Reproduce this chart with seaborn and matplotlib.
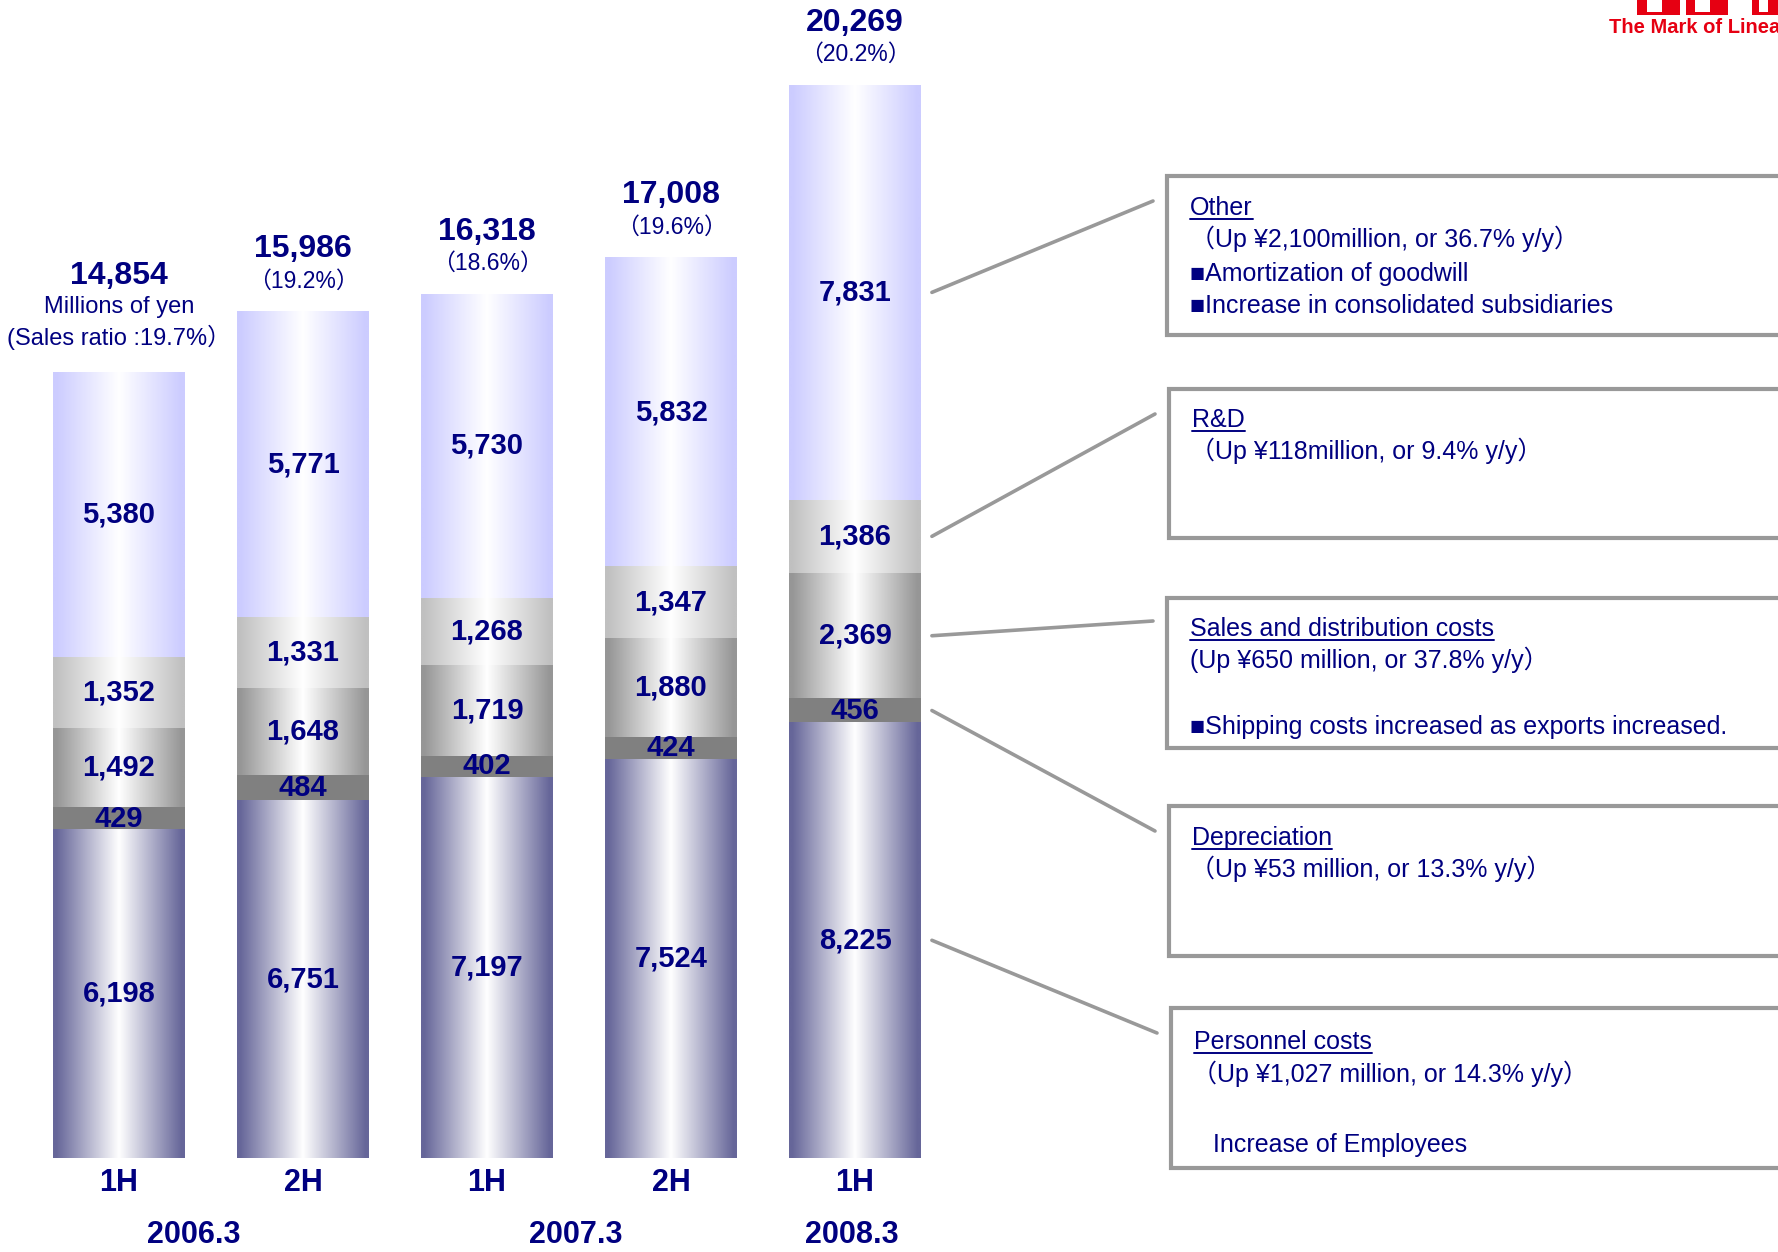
import numpy as np
import matplotlib
matplotlib.use("Agg")
import matplotlib.pyplot as plt
import seaborn as sns
from matplotlib.patches import Rectangle, ConnectionPatch
from matplotlib.lines import Line2D

# ---------------- data ----------------
periods = ["2006.3 1H", "2006.3 2H", "2007.3 1H", "2007.3 2H", "2008.3 1H"]
tick_labels = ["1H", "2H", "1H", "2H", "1H"]
years = ["2006.3", "2007.3", "2008.3"]

personnel = [6198, 6751, 7197, 7524, 8225]
depreciation = [429, 484, 402, 424, 456]
sales_dist = [1492, 1648, 1719, 1880, 2369]
rnd = [1352, 1331, 1268, 1347, 1386]
other = [5380, 5771, 5730, 5832, 7831]
totals = [14854, 15986, 16318, 17008, 20269]
sales_ratio = ["19.7", "19.2", "18.6", "19.6", "20.2"]

seg_names = ["Personnel costs", "Depreciation", "Sales and distribution costs", "R&D", "Other"]
box_lines = {
    "Other": ["\uff08Up \u00a52,100million, or 36.7% y/y\uff09", "\u25a0Amortization of goodwill",
              "\u25a0Increase in consolidated subsidiaries"],
    "R&D": ["\uff08Up \u00a5118million, or 9.4% y/y\uff09"],
    "Sales and distribution costs": ["(Up \u00a5650 million, or 37.8% y/y\uff09", "",
                                     "\u25a0Shipping costs increased as exports increased."],
    "Depreciation": ["\uff08Up \u00a553 million, or 13.3% y/y\uff09"],
    "Personnel costs": ["\uff08Up \u00a51,027 million, or 14.3% y/y\uff09", "", "   Increase of Employees"],
}

# ---------------- style ----------------
sns.set_style("white")
plt.rcParams["font.family"] = ["Liberation Sans", "Noto Sans CJK JP", "DejaVu Sans"]
NAVY = "#000080"
GRAYLINE = "#999999"

edge_cols = ["#666699", "#808080", "#969696", "#c0c0c0", "#ccccff"]
gradient = [True, False, True, True, True]

W, H = 1778, 1252
fig = plt.figure(figsize=(W / 100, H / 100), dpi=100)
fig.patch.set_facecolor("white")

ax_left, ax_right = 27, 947
ax_bottom_px, ax_top_px = 1158, 85
ax = fig.add_axes([ax_left / W, (H - ax_bottom_px) / H, (ax_right - ax_left) / W,
                   (ax_bottom_px - ax_top_px) / H])

segs = [personnel, depreciation, sales_dist, rnd, other]
cum = np.cumsum(np.array(segs, dtype=float), axis=0)

layer_patches = {}
for k in reversed(range(len(segs))):
    n0 = len(ax.patches)
    sns.barplot(x=periods, y=cum[k], order=periods, color=edge_cols[k], saturation=1,
                width=0.717, errorbar=None, ax=ax, linewidth=0)
    layer_patches[k] = ax.patches[n0:]


def grad_img(edge_hex):
    edge = np.array(matplotlib.colors.to_rgb(edge_hex))
    white = np.ones(3)
    n = 256
    t = np.abs(np.linspace(0, 1, n) - 0.5) * 2
    t = np.clip(t * 1.05, 0, 1)
    row = white[None, :] * (1 - t[:, None]) + edge[None, :] * t[:, None]
    return row[None, :, :]


mids = {}
for k in range(len(segs)):
    img = grad_img(edge_cols[k])
    for i, p in enumerate(layer_patches[k]):
        x0, w = p.get_x(), p.get_width()
        top = p.get_height()
        bottom = layer_patches[k - 1][i].get_height() if k > 0 else 0.0
        if gradient[k]:
            ax.imshow(img, extent=[x0, x0 + w, bottom, top], aspect="auto",
                      interpolation="bilinear", zorder=2)
        mid = (bottom + top) / 2
        mids[(k, i)] = mid
        ax.text(x0 + w / 2, mid, f"{segs[k][i]:,}", ha="center", va="center",
                fontsize=21, fontweight="bold", color=NAVY, zorder=4)

# totals and ratios
for i, p in enumerate(layer_patches[len(segs) - 1]):
    xc = p.get_x() + p.get_width() / 2
    top = p.get_height()
    if i == 0:
        ax.annotate(f"{totals[i]:,}", xy=(xc, top), xytext=(0, 69), textcoords="offset points",
                    ha="center", va="center", fontsize=23, fontweight="bold", color=NAVY,
                    annotation_clip=False)
        ax.annotate("Millions of yen", xy=(xc, top), xytext=(0, 47), textcoords="offset points",
                    ha="center", va="center", fontsize=17, color=NAVY, annotation_clip=False)
        ax.annotate(f"(Sales ratio :{sales_ratio[i]}%\uff09", xy=(xc, top), xytext=(0, 25),
                    textcoords="offset points", ha="center", va="center", fontsize=17,
                    color=NAVY, annotation_clip=False)
    else:
        ax.annotate(f"{totals[i]:,}", xy=(xc, top), xytext=(0, 45), textcoords="offset points",
                    ha="center", va="center", fontsize=23, fontweight="bold", color=NAVY,
                    annotation_clip=False)
        ax.annotate(f"\uff08{sales_ratio[i]}%\uff09", xy=(xc, top), xytext=(0, 22),
                    textcoords="offset points", ha="center", va="center", fontsize=16.5,
                    color=NAVY, annotation_clip=False)

ax.set_xlim(-0.5, len(periods) - 0.5)
ax.set_ylim(0, totals[-1])
ax.set_xticks(range(len(periods)))
ax.set_xticklabels(tick_labels, fontsize=22, fontweight="bold", color=NAVY)
ax.tick_params(axis="x", length=0, pad=7)
ax.set_yticks([])
ax.set_xlabel("")
ax.set_ylabel("")
for s in ax.spines.values():
    s.set_visible(False)

# ---------------- overlay (pixel coords) ----------------
ov = fig.add_axes([0, 0, 1, 1])
ov.set_xlim(0, W)
ov.set_ylim(H, 0)
ov.axis("off")
ov.patch.set_visible(False)

# year labels
for label, xp in zip(years, [194, 576, 852]):
    ov.text(xp, 1243, label, ha="center", va="baseline", fontsize=22, fontweight="bold",
            color=NAVY)

# logo fragment
RED = "#e60012"
for (x0, x1, i0, i1) in [(1637, 1680, 1647, 1662), (1686, 1728, 1695, 1710), (1752, 1790, 1759, 1768)]:
    ov.add_patch(Rectangle((x0, 0), x1 - x0, 15, facecolor=RED, edgecolor="none"))
    ov.add_patch(Rectangle((i0, 0), i1 - i0, 12, facecolor="white", edgecolor="none"))
ov.text(1609, 33, "The Mark of Linear Motion", ha="left", va="baseline", fontsize=14.5,
        fontweight="bold", color=RED, clip_on=True)

# boxes: (segment index, x, y_top, y_bottom, title x, title baseline, line baselines, line x, line-end y)
boxes = [
    (4, 1167, 176, 335, 1190, 215, [247, 281, 313], 1190, 201),
    (3, 1169, 389, 538, 1192, 427, [459], 1190, 414),
    (2, 1167, 598, 748, 1190, 636, [668, 701, 734], 1190, 621),
    (1, 1169, 806, 956, 1192, 845, [877], 1190, 831),
    (0, 1171, 1008, 1168, 1194, 1049, [1082, 1117, 1152], 1192, 1033),
]

titles = []
for (k, bx, by0, by1, tx, tyb, lys, lx, ly_end) in boxes:
    ov.add_patch(Rectangle((bx, by0), 700, by1 - by0, facecolor="white", edgecolor=GRAYLINE,
                           linewidth=3.0))
    name = seg_names[k]
    t = ov.text(tx, tyb, name, ha="left", va="baseline", fontsize=18, color=NAVY)
    titles.append((t, tyb))
    for line, yb in zip(box_lines[name], lys):
        if line:
            ov.text(lx, yb, line, ha="left", va="baseline", fontsize=18, color=NAVY)
    con = ConnectionPatch(xyA=(4.418, mids[(k, 4)]), coordsA=ax.transData,
                          xyB=(bx - 14, ly_end), coordsB=ov.transData,
                          color=GRAYLINE, linewidth=2.6)
    fig.add_artist(con)

# underline titles
fig.canvas.draw()
rend = fig.canvas.get_renderer()
inv = ov.transData.inverted()
for t, yb in titles:
    bb = t.get_window_extent(renderer=rend)
    (xa, _), (xb, _) = inv.transform([[bb.x0, bb.y0], [bb.x1, bb.y0]])
    ov.add_line(Line2D([xa, xb], [yb + 4, yb + 4], color=NAVY, linewidth=1.4))

fig.savefig("out.png", dpi=100, facecolor="white")
